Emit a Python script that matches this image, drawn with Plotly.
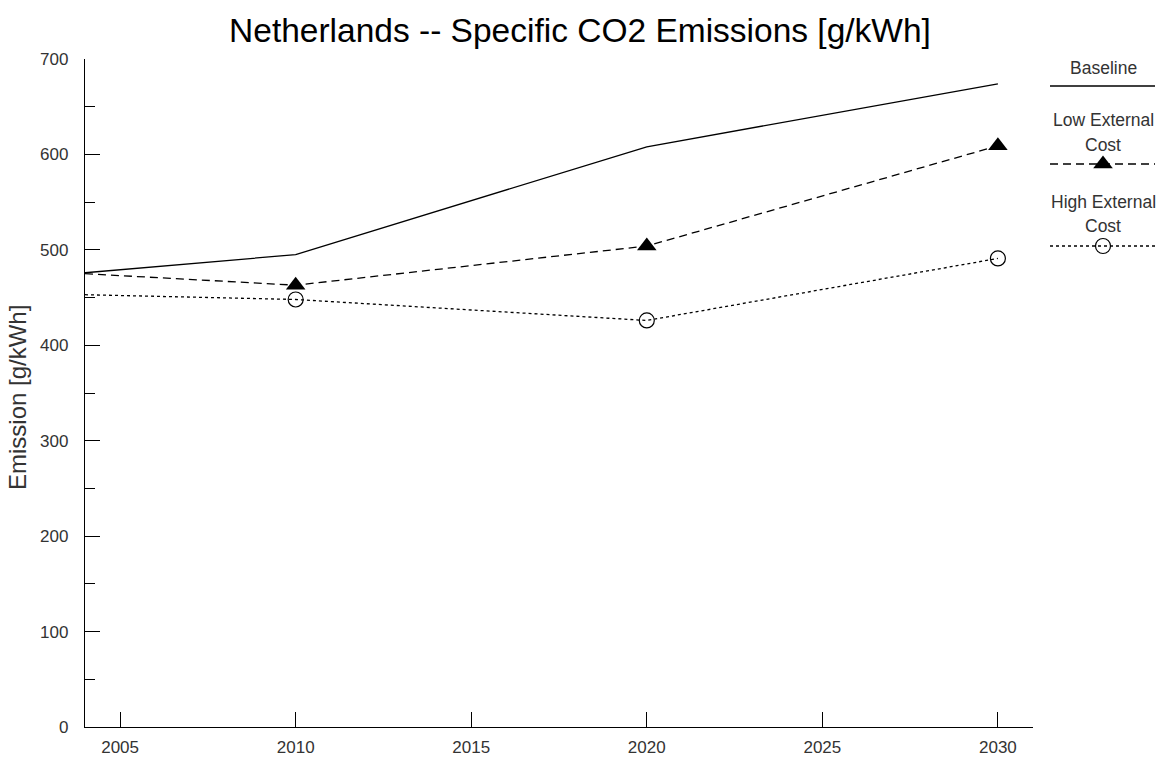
import plotly.graph_objects as go

years = [2004, 2010, 2020, 2030]
marker_years = [2010, 2020, 2030]
baseline = [476, 495, 608, 674]
low_ext = [475, 463, 504, 609]
high_ext = [453, 448, 426, 491]
series_names = ["Baseline", "Low External<br>Cost", "High External<br>Cost"]

FONT = "Liberation Sans, Arial, Helvetica, sans-serif"
W, H = 1160, 758
ML, MR, MT, MB = 85, 5, 59, 31
PW = W - ML - MR
PH = H - MT - MB

fig = go.Figure()

fig.add_trace(go.Scatter(x=years, y=baseline, mode="lines",
                         line=dict(color="black", width=1.3), showlegend=False))
fig.add_trace(go.Scatter(x=years, y=low_ext, mode="lines",
                         line=dict(color="black", width=1.3, dash="8px,5px"), showlegend=False))
fig.add_trace(go.Scatter(x=marker_years, y=low_ext[1:], mode="markers",
                         marker=dict(symbol="triangle-up", size=17, color="black"), showlegend=False))
fig.add_trace(go.Scatter(x=years, y=high_ext, mode="lines",
                         line=dict(color="black", width=1.3, dash="3px,3px"), showlegend=False))
fig.add_trace(go.Scatter(x=marker_years, y=high_ext[1:], mode="markers",
                         marker=dict(symbol="circle-open", size=15, color="black", line=dict(width=1.2)),
                         showlegend=False))

# legend drawn on a helper axis whose units are screen pixels
LX0, LX1, LXM = 1050, 1155, 1103
line_rows = [86, 164, 246]
text_rows = [[68], [120, 145], [202, 226]]
fig.add_trace(go.Scatter(x=[LX0, LX1], y=[line_rows[0]] * 2, xaxis="x2", yaxis="y2", mode="lines",
                         line=dict(color="black", width=1.3), showlegend=False, hoverinfo="skip"))
fig.add_trace(go.Scatter(x=[LX0, LX1], y=[line_rows[1]] * 2, xaxis="x2", yaxis="y2", mode="lines",
                         line=dict(color="black", width=1.3, dash="8px,5px"), showlegend=False, hoverinfo="skip"))
fig.add_trace(go.Scatter(x=[LXM], y=[line_rows[1]], xaxis="x2", yaxis="y2", mode="markers",
                         marker=dict(symbol="triangle-up", size=17, color="black"), showlegend=False, hoverinfo="skip"))
fig.add_trace(go.Scatter(x=[LX0, LX1], y=[line_rows[2]] * 2, xaxis="x2", yaxis="y2", mode="lines",
                         line=dict(color="black", width=1.3, dash="3px,3px"), showlegend=False, hoverinfo="skip"))
fig.add_trace(go.Scatter(x=[LXM], y=[line_rows[2]], xaxis="x2", yaxis="y2", mode="markers",
                         marker=dict(symbol="circle-open", size=15, color="black", line=dict(width=1.2)),
                         showlegend=False, hoverinfo="skip"))

for name, rows in zip(series_names, text_rows):
    for part, ty in zip(name.split("<br>"), rows):
        fig.add_annotation(x=LXM, y=ty, xref="x2", yref="y2", text=part, showarrow=False,
                           font=dict(family=FONT, size=17.5, color="#333"), yanchor="middle",
                           xanchor="center")

# y-axis title
fig.add_annotation(x=(18 - ML) / PW, y=(H - MB - 398) / PH, xref="paper", yref="paper",
                   text="Emission [g/kWh]", textangle=-90, showarrow=False,
                   xanchor="center", yanchor="middle",
                   font=dict(family=FONT, size=24, color="#333"))

fig.update_layout(
    width=W, height=H,
    margin=dict(l=ML, r=MR, t=MT, b=MB, autoexpand=False),
    plot_bgcolor="white", paper_bgcolor="white",
    font=dict(family=FONT, size=17, color="#333"),
    title=dict(text="Netherlands -- Specific CO2 Emissions [g/kWh]", x=0.5, xref="container",
               xanchor="center", y=1 - 30 / H, yref="container", yanchor="middle",
               font=dict(family=FONT, size=33.5, color="black")),
    xaxis=dict(range=[2004, 2031], tickmode="array", tickvals=[2005, 2010, 2015, 2020, 2025, 2030],
               ticks="inside", ticklen=15, tickcolor="black", showline=True, linecolor="black",
               linewidth=1.3, showgrid=False, zeroline=False, domain=[0, 948 / PW],
               automargin=False, ticklabelstandoff=4, tickfont=dict(size=17, color="#333")),
    yaxis=dict(range=[0, 700], dtick=100, ticks="inside", ticklen=15, tickcolor="black",
               showline=True, linecolor="black", linewidth=1.3, showgrid=False, zeroline=False,
               minor=dict(dtick=50, ticks="inside", ticklen=10, tickcolor="black", showgrid=False),
               automargin=False, ticklabelstandoff=12,
               tickfont=dict(size=17, color="#333")),
    xaxis2=dict(domain=[(1040 - ML) / PW, 1], range=[1040, 1155], visible=False, anchor="y2"),
    yaxis2=dict(domain=[0, 1], range=[H - MB, MT], visible=False, anchor="x2"),
)

fig.write_html("out.html")
